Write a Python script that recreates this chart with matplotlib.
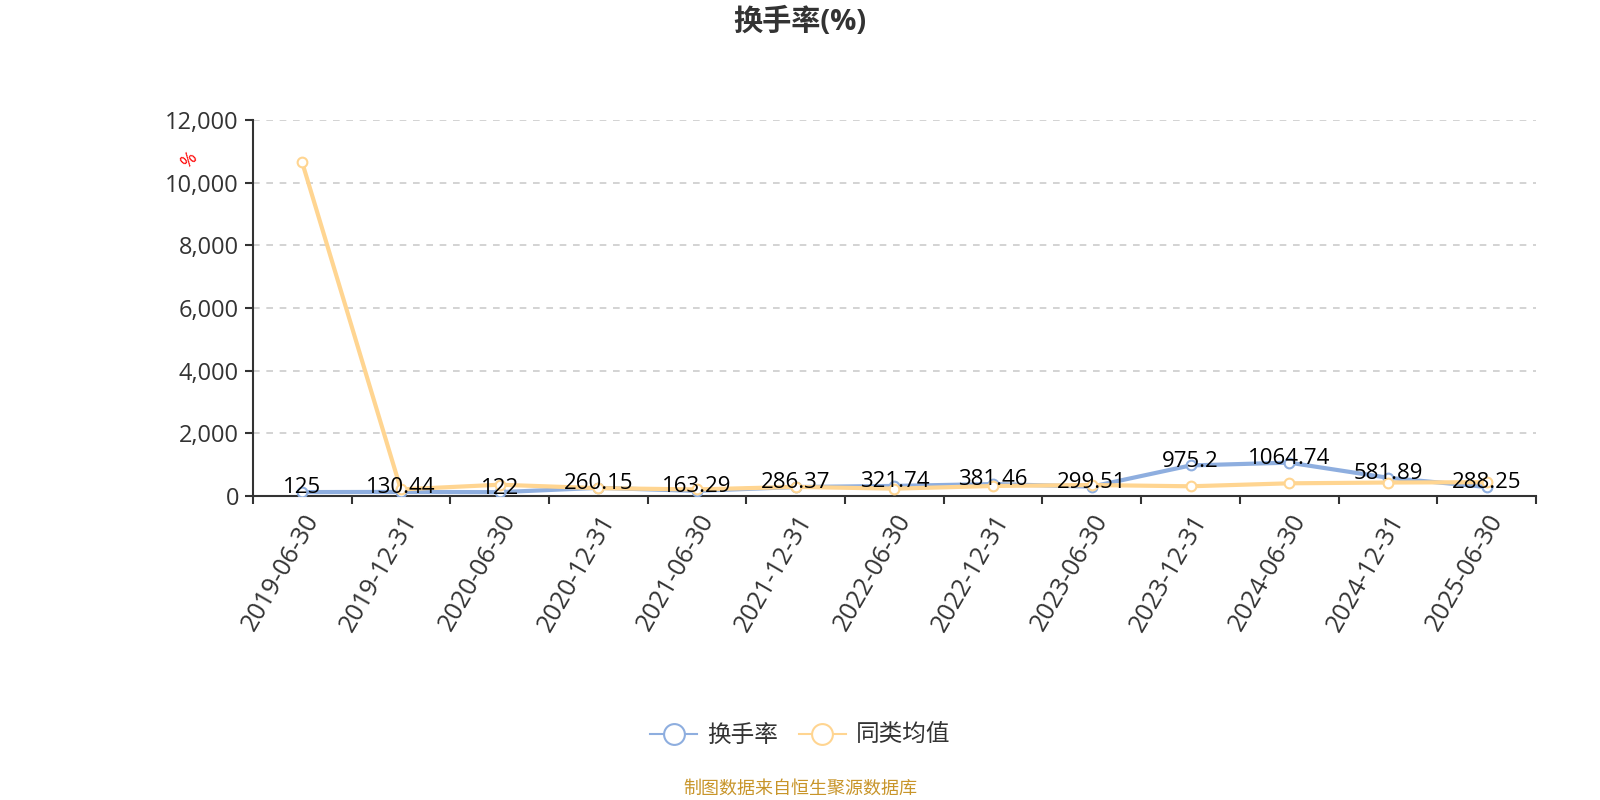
import matplotlib
matplotlib.use("Agg")
import matplotlib.pyplot as plt
import numpy as np
from matplotlib.lines import Line2D
from matplotlib.ticker import FuncFormatter, MultipleLocator

# Open Sans for digits, Noto CJK for Chinese glyphs
plt.rcParams["font.family"] = ["Open Sans", "Noto Sans CJK SC", "DejaVu Sans"]

# ---------------------------------------------------------------------------
# Data
# ---------------------------------------------------------------------------
dates = ["2019-06-30", "2019-12-31", "2020-06-30", "2020-12-31", "2021-06-30",
         "2021-12-31", "2022-06-30", "2022-12-31", "2023-06-30", "2023-12-31",
         "2024-06-30", "2024-12-31", "2025-06-30"]
turnover = [125, 130.44, 122, 260.15, 163.29, 286.37, 321.74, 381.46,
            299.51, 975.2, 1064.74, 581.89, 288.25]
peer_avg = [10650, 210, 360, 250, 210, 290, 235, 320, 350, 310, 405, 430, 440]
labels = ["125", "130.44", "122", "260.15", "163.29", "286.37", "321.74",
          "381.46", "299.51", "975.2", "1064.74", "581.89", "288.25"]

BLUE = "#8eaedf"
YELLOW = "#ffd591"

fig = plt.figure(figsize=(16, 8), dpi=100)
ax = fig.add_axes([0.158, 0.38, 0.802, 0.47])

x = np.arange(len(dates))
ax.plot(x, turnover, color=BLUE, linewidth=3, marker="o", markersize=7,
        markerfacecolor="white", markeredgecolor=BLUE, markeredgewidth=1.5, zorder=3)
ax.plot(x, peer_avg, color=YELLOW, linewidth=3, marker="o", markersize=7,
        markerfacecolor="white", markeredgecolor=YELLOW, markeredgewidth=1.5, zorder=4)

for xi, v, t in zip(x, turnover, labels):
    ax.annotate(t, (xi, v), xytext=(0, 3), textcoords="offset points",
                ha="center", va="center", fontsize=16, color="black", zorder=5)

ax.set_xlim(-0.5, len(dates) - 0.5)
ax.set_ylim(0, 12000)
ax.yaxis.set_major_locator(MultipleLocator(2000))
ax.yaxis.set_major_formatter(FuncFormatter(lambda v, p: f"{int(v):,}"))
ax.grid(axis="y", linestyle=(0, (4, 4)), color="#cccccc", linewidth=1.2)
ax.set_axisbelow(True)

ax.set_xticks(x)
ax.set_xticklabels(dates, rotation=60, ha="right", rotation_mode="anchor",
                   fontsize=18, color="#333333")
ax.set_xticks(np.arange(-0.5, len(dates)), minor=True)
ax.tick_params(axis="x", which="major", length=0, pad=10)
ax.tick_params(axis="x", which="minor", length=6, width=1.5, color="#333333")
ax.tick_params(axis="y", labelsize=17, labelcolor="#333333", length=6,
               width=1.5, color="#333333", pad=4)

for side in ["top", "right"]:
    ax.spines[side].set_visible(False)
for side in ["left", "bottom"]:
    ax.spines[side].set_color("#333333")
    ax.spines[side].set_linewidth(1.5)

fig.text(0.118, 0.80, "%", color="red", fontsize=13, rotation=45,
         ha="center", va="center")

fig.text(0.5, 0.972, "换手率(%)", ha="center", va="center", fontsize=21,
         fontweight="bold", color="#333333")

handles = [
    Line2D([0], [0], color=BLUE, linewidth=1.5, marker="o", markersize=15,
           markerfacecolor="white", markeredgecolor=BLUE, markeredgewidth=1.5),
    Line2D([0], [0], color=YELLOW, linewidth=1.5, marker="o", markersize=15,
           markerfacecolor="white", markeredgecolor=YELLOW, markeredgewidth=1.5),
]
fig.legend(handles, ["换手率", "同类均值"], loc="center", bbox_to_anchor=(0.5, 0.08),
           ncol=2, frameon=False, fontsize=17, labelcolor="#333333",
           handlelength=2.0, columnspacing=0.9, handletextpad=0.4)

fig.text(0.5, 0.014, "制图数据来自恒生聚源数据库", ha="center", va="center",
         fontsize=13, color="#c8952a")

plt.savefig("out.png", dpi=100, facecolor="white")
